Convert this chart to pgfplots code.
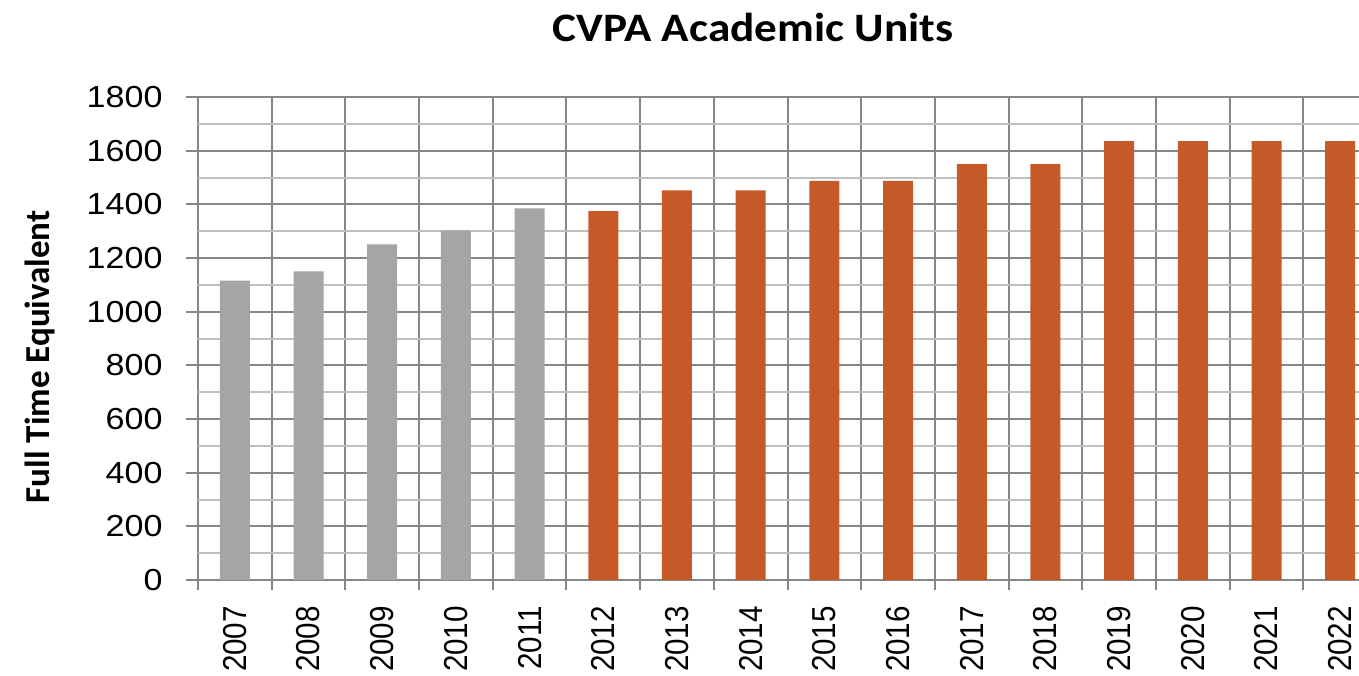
\documentclass[border=0pt]{standalone}
\usepackage{fontspec}
\setmainfont{Liberation Sans}
\newfontfamily\calibri{Carlito}
\usepackage{pgfplots}
\pgfplotsset{compat=1.18}
\definecolor{barGray}{HTML}{A5A5A5}
\definecolor{barOrange}{HTML}{C55A28}
\definecolor{gridMajor}{HTML}{878787}
\definecolor{gridMinor}{HTML}{BFBFBF}
\begin{document}
\begin{tikzpicture}
\begin{axis}[
  scale only axis, width=580.5pt, height=241.5pt,
  ymin=0, ymax=1800, xmin=-0.5, xmax=15.255,
  ybar, bar width=0.407, bar shift=0pt,
  axis x line=bottom, axis y line=left,
  axis line style={-, draw=gridMajor, line width=1pt},
  /pgf/number format/assume math mode=true,
  /pgf/number format/set thousands separator={},
  ytick={0,200,...,1800},
  yticklabel style={font=\fontsize{15.2}{18}\selectfont, text=black, anchor=east, xshift=-7.8pt, xscale=1.12},
  xtick={0,...,15},
  xticklabels={2007,2008,2009,2010,2011,2012,2013,2014,2015,2016,2017,2018,2019,2020,2021,2022},
  xticklabel style={font=\fontsize{14.8}{18}\selectfont, text=black, yshift=-3.5pt, xscale=1.12, rotate=90, anchor=east},
  xtick style={draw=none},
  minor xtick={-0.5,0.5,...,15.5},
  minor x tick style={draw=gridMajor, line width=1pt},
  ytick style={draw=gridMajor, line width=1pt},
  tick align=outside, major tick length=6pt, minor tick length=5pt,
  xminorgrids=true, ymajorgrids=true,
  minor grid style={draw=gridMajor, line width=1pt},
  major grid style={draw=gridMajor, line width=1pt},
  extra y ticks={100,300,500,700,900,1100,1300,1500,1700},
  extra y tick labels={},
  extra y tick style={grid=major, major tick length=0pt, major grid style={draw=gridMinor, line width=1pt}},
  every axis title shift=0pt,
  title={CVPA Academic Units},
  title style={at={(axis description cs:0.478,1.1145)}, anchor=base, xscale=1.12, font=\calibri\bfseries\fontsize{20.2}{24}\selectfont},
  ylabel={Full Time Equivalent},
  ylabel style={at={(axis description cs:-0.136,0.462)}, anchor=center, font=\calibri\bfseries\fontsize{17.5}{21}\selectfont},
]
\addplot[fill=barGray, draw=none] coordinates {(0,1116) (1,1150) (2,1251) (3,1303) (4,1385)};
\addplot[fill=barOrange, draw=none] coordinates {(5,1375) (6,1452) (7,1452) (8,1487) (9,1487) (10,1550) (11,1550) (12,1636) (13,1636) (14,1636) (15,1636)};
\end{axis}
\pgfresetboundingbox
\path[use as bounding box] (-99pt,-47.5pt) rectangle (580.5pt,290pt);
\end{tikzpicture}
\end{document}
